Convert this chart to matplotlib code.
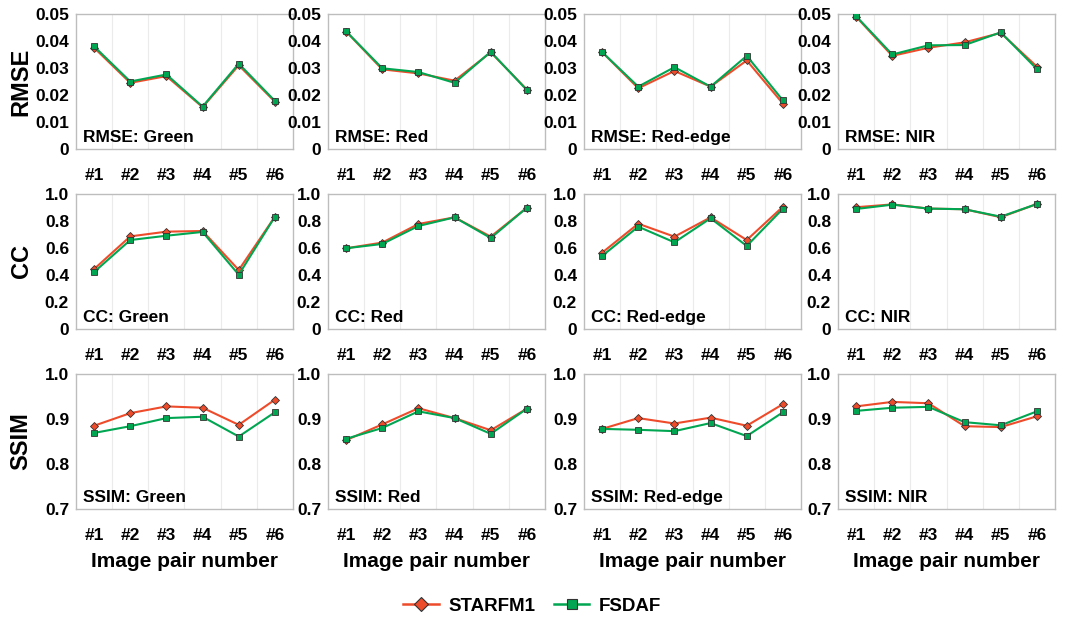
import matplotlib
matplotlib.use("Agg")
import matplotlib.pyplot as plt
from matplotlib.lines import Line2D

plt.rcParams['font.family'] = ['Liberation Sans', 'DejaVu Sans']
plt.rcParams['font.weight'] = 'bold'

pairs = ["#1", "#2", "#3", "#4", "#5", "#6"]
bands = ["Green", "Red", "Red-edge", "NIR"]
metrics = ["RMSE", "CC", "SSIM"]

# STARFM1 / FSDAF values, one list per band
rmse_starfm = [
    [0.0375, 0.0245, 0.0270, 0.0155, 0.0310, 0.0175],
    [0.0435, 0.0295, 0.0280, 0.0253, 0.0358, 0.0220],
    [0.0359, 0.0225, 0.0289, 0.0231, 0.0328, 0.0168],
    [0.0490, 0.0345, 0.0375, 0.0395, 0.0430, 0.0305],
]
rmse_fsdaf = [
    [0.0380, 0.0250, 0.0276, 0.0157, 0.0316, 0.0178],
    [0.0436, 0.0299, 0.0285, 0.0245, 0.0360, 0.0218],
    [0.0359, 0.0231, 0.0303, 0.0231, 0.0345, 0.0180],
    [0.0492, 0.0350, 0.0384, 0.0385, 0.0432, 0.0296],
]
cc_starfm = [
    [0.444, 0.686, 0.721, 0.726, 0.437, 0.832],
    [0.598, 0.640, 0.778, 0.827, 0.684, 0.899],
    [0.565, 0.780, 0.684, 0.827, 0.659, 0.906],
    [0.902, 0.923, 0.892, 0.887, 0.828, 0.926],
]
cc_fsdaf = [
    [0.422, 0.659, 0.691, 0.719, 0.402, 0.832],
    [0.598, 0.630, 0.763, 0.827, 0.674, 0.899],
    [0.541, 0.758, 0.642, 0.820, 0.615, 0.891],
    [0.889, 0.921, 0.892, 0.887, 0.832, 0.926],
]
ssim_starfm = [
    [0.885, 0.913, 0.928, 0.925, 0.887, 0.943],
    [0.853, 0.888, 0.924, 0.902, 0.875, 0.923],
    [0.878, 0.902, 0.890, 0.903, 0.885, 0.933],
    [0.928, 0.938, 0.935, 0.884, 0.882, 0.906],
]
ssim_fsdaf = [
    [0.869, 0.884, 0.902, 0.905, 0.861, 0.915],
    [0.856, 0.880, 0.917, 0.902, 0.867, 0.923],
    [0.878, 0.876, 0.873, 0.891, 0.862, 0.915],
    [0.918, 0.925, 0.927, 0.893, 0.886, 0.917],
]

starfm = {"RMSE": rmse_starfm, "CC": cc_starfm, "SSIM": ssim_starfm}
fsdaf = {"RMSE": rmse_fsdaf, "CC": cc_fsdaf, "SSIM": ssim_fsdaf}
ylims = {"RMSE": (0, 0.05), "CC": (0, 1.0), "SSIM": (0.7, 1.0)}
yticks = {"RMSE": [0, 0.01, 0.02, 0.03, 0.04, 0.05],
          "CC": [0, 0.2, 0.4, 0.6, 0.8, 1.0],
          "SSIM": [0.7, 0.8, 0.9, 1.0]}
yticklabels = {"RMSE": ["0", "0.01", "0.02", "0.03", "0.04", "0.05"],
               "CC": ["0", "0.2", "0.4", "0.6", "0.8", "1.0"],
               "SSIM": ["0.7", "0.8", "0.9", "1.0"]}

red = "#EE4B2B"
green = "#00A651"
edge = "#333333"

W, H = 1072, 623
fig = plt.figure(figsize=(W / 100, H / 100), dpi=100)

lefts = [76, 328, 584, 838]
tops = [14, 194, 374]
aw, ah = 217, 135

x = list(range(len(pairs)))
for r, m in enumerate(metrics):
    for c, b in enumerate(bands):
        ax = fig.add_axes([lefts[c] / W, 1 - (tops[r] + ah) / H, aw / W, ah / H])
        ax.plot(x, starfm[m][c], color=red, lw=1.5, marker="D", ms=4.5,
                mfc=red, mec=edge, mew=0.6, zorder=3)
        ax.plot(x, fsdaf[m][c], color=green, lw=1.5, marker="s", ms=5,
                mfc=green, mec=edge, mew=0.6, zorder=4)
        ax.set_xlim(-0.5, 5.5)
        ax.set_ylim(*ylims[m])
        ax.set_yticks(yticks[m])
        ax.set_yticklabels(yticklabels[m])
        ax.set_xticks(x)
        ax.set_xticklabels(pairs)
        for gx in [0.5, 1.5, 2.5, 3.5, 4.5]:
            ax.axvline(gx, color="#EBEBEB", lw=0.8, zorder=0)
        ax.tick_params(axis="y", length=0, labelsize=12.5, pad=5)
        ax.tick_params(axis="x", length=0, labelsize=12.5, pad=14)
        for sp in ax.spines.values():
            sp.set_color("#BDBDBD")
            sp.set_linewidth(1.0)
        ax.text(0.03, 0.03, m + ": " + b, transform=ax.transAxes,
                fontsize=12.5, fontweight="bold", va="bottom", ha="left")
        if c == 0:
            ax.set_ylabel(m, fontsize=17, fontweight="bold")
            ax.yaxis.set_label_coords(-0.2, 0.5)
        if r == 2:
            ax.set_xlabel("Image pair number", fontsize=15, fontweight="bold", labelpad=6)

handles = [
    Line2D([], [], color=red, lw=1.8, marker="D", ms=7, mfc=red, mec=edge, mew=0.8),
    Line2D([], [], color=green, lw=1.8, marker="s", ms=7, mfc=green, mec=edge, mew=0.8),
]
fig.legend(handles, ["STARFM1", "FSDAF"], loc="center", bbox_to_anchor=(532 / W, 1 - 606 / H),
           ncol=2, frameon=False, fontsize=13.5, handlelength=1.9, columnspacing=1.0,
           handletextpad=0.5)

fig.savefig("out.png", dpi=100)
